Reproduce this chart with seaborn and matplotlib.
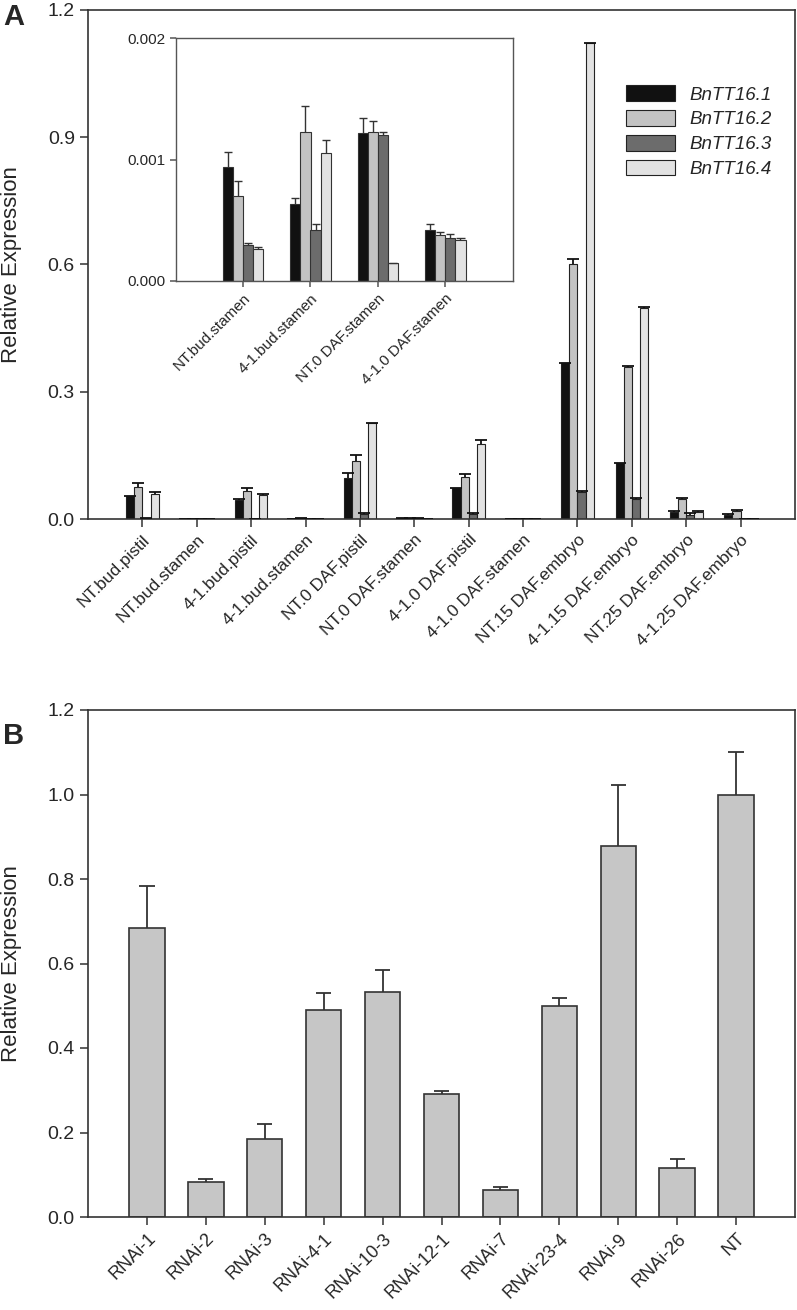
import pandas as pd
import matplotlib.pyplot as plt
import seaborn as sns

# panel A: expression of four BnTT16 copies across tissues
tissues = ['NT.bud.pistil', 'NT.bud.stamen', '4-1.bud.pistil', '4-1.bud.stamen',
           'NT.0 DAF.pistil', 'NT.0 DAF.stamen', '4-1.0 DAF.pistil', '4-1.0 DAF.stamen',
           'NT.15 DAF.embryo', '4-1.15 DAF.embryo', 'NT.25 DAF.embryo', '4-1.25 DAF.embryo']
genes = ['BnTT16.1', 'BnTT16.2', 'BnTT16.3', 'BnTT16.4']

tt16_1 = [0.055, 0.00094, 0.044, 0.00063, 0.097, 0.00122, 0.072, 0.00042, 0.367, 0.133, 0.016, 0.009]
tt16_2 = [0.075, 0.00070, 0.066, 0.00123, 0.136, 0.00123, 0.100, 0.00038, 0.601, 0.358, 0.046, 0.020]
tt16_3 = [0.003, 0.00030, 0.001, 0.00042, 0.0125, 0.00120, 0.0125, 0.00035, 0.064, 0.048, 0.009, 0.0005]
tt16_4 = [0.059, 0.00026, 0.057, 0.00105, 0.226, 0.00015, 0.176, 0.00034, 1.122, 0.498, 0.016, 0.001]

tt16_1_err = [0.0, 0.00012, 0.002, 0.00005, 0.012, 0.00012, 0.002, 0.00005, 0.0, 0.0, 0.002, 0.002]
tt16_2_err = [0.010, 0.00012, 0.008, 0.00021, 0.014, 0.00009, 0.005, 0.00002, 0.013, 0.002, 0.003, 0.001]
tt16_3_err = [0.0, 0.00001, 0.0, 0.00005, 0.001, 0.00003, 0.001, 0.00004, 0.001, 0.002, 0.004, 0.0]
tt16_4_err = [0.004, 0.00002, 0.002, 0.00011, 0.0, 0.0, 0.010, 0.00001, 0.001, 0.002, 0.003, 0.0]

inset_idx = [1, 3, 5, 7]

# panel B: RNAi lines
lines = ['RNAi-1', 'RNAi-2', 'RNAi-3', 'RNAi-4-1', 'RNAi-10-3', 'RNAi-12-1',
         'RNAi-7', 'RNAi-23-4', 'RNAi-9', 'RNAi-26', 'NT']
rel_expr = [0.685, 0.082, 0.185, 0.489, 0.533, 0.291, 0.064, 0.499, 0.879, 0.116, 1.0]
rel_err = [0.099, 0.007, 0.036, 0.042, 0.052, 0.008, 0.006, 0.020, 0.143, 0.022, 0.101]

colors = ['#111111', '#c3c3c3', '#6c6c6c', '#e2e2e2']

sns.set_style('ticks')
plt.rcParams['font.family'] = ['Liberation Sans', 'DejaVu Sans']


def long_frame(idx):
    vals = [tt16_1, tt16_2, tt16_3, tt16_4]
    rows = []
    for g, v in zip(genes, vals):
        for i in idx:
            rows.append({'tissue': tissues[i], 'gene': g, 'value': v[i]})
    return pd.DataFrame(rows)


def add_errs(ax, errs, half, lw, color='#111111'):
    for cont, err in zip(ax.containers, errs):
        for bar, e in zip(cont, err):
            x = bar.get_x() + bar.get_width() / 2
            y = bar.get_height()
            ax.vlines(x, y, y + e, color=color, lw=lw, zorder=3)
            ax.hlines(y + e, x - half, x + half, color=color, lw=lw, zorder=3)


def style_axes(ax, lw=1.2, color='#333333'):
    for s in ax.spines.values():
        s.set_visible(True)
        s.set_linewidth(lw)
        s.set_color(color)
    ax.tick_params(direction='out', length=6, width=1.1, color=color,
                   top=False, right=False)


fig = plt.figure(figsize=(7.97, 13.10), dpi=100)

# ---- panel A
axA = fig.add_axes([88 / 797, 1 - 519 / 1310, 707 / 797, 509 / 1310])
dfA = long_frame(range(len(tissues)))
sns.barplot(data=dfA, x='tissue', y='value', hue='gene', palette=colors,
            width=0.6, saturation=1, edgecolor='#222222', linewidth=0.8,
            errorbar=None, ax=axA)
add_errs(axA, [tt16_1_err, tt16_2_err, tt16_3_err, tt16_4_err], 0.11, 1.3)
axA.set_xlim(-1, 12)
axA.set_ylim(0, 1.2)
axA.set_yticks([0.0, 0.3, 0.6, 0.9, 1.2])
axA.set_yticklabels(['0.0', '0.3', '0.6', '0.9', '1.2'], fontsize=14)
axA.set_xticks(range(len(tissues)))
axA.set_xticklabels(tissues, rotation=45, ha='right', rotation_mode='anchor', fontsize=12.5)
axA.set_xlabel('')
axA.set_ylabel('Relative Expression', fontsize=16)
axA.yaxis.set_label_coords(-0.093, 0.5)
style_axes(axA)
handles, labels = axA.get_legend_handles_labels()
axA.legend(handles, labels, loc='upper left', bbox_to_anchor=(0.737, 0.885),
           frameon=False, prop={'style': 'italic', 'size': 13.5},
           handlelength=2.6, handleheight=0.9, labelspacing=0.35, handletextpad=0.8)

# ---- inset (stamen samples)
axI = fig.add_axes([175.7 / 797, 1 - 281 / 1310, 337 / 797, 243 / 1310])
dfI = long_frame(inset_idx)
sns.barplot(data=dfI, x='tissue', y='value', hue='gene', palette=colors,
            width=0.6, saturation=1, edgecolor='#333333', linewidth=0.8,
            errorbar=None, legend=False, ax=axI)
errs_all = [tt16_1_err, tt16_2_err, tt16_3_err, tt16_4_err]
add_errs(axI, [[e[i] for i in inset_idx] for e in errs_all], 0.06, 1.0, color='#333333')
axI.set_xlim(-1, 4)
axI.set_ylim(0, 0.002)
axI.set_yticks([0.0, 0.001, 0.002])
axI.set_yticklabels(['0.000', '0.001', '0.002'], fontsize=11)
axI.set_xticks(range(len(inset_idx)))
axI.set_xticklabels([tissues[i] for i in inset_idx], rotation=45, ha='right',
                    rotation_mode='anchor', fontsize=11)
axI.set_xlabel('')
axI.set_ylabel('')
style_axes(axI, lw=1.0, color='#555555')
axI.tick_params(length=4)

# ---- panel B
axB = fig.add_axes([88 / 797, 1 - 1217 / 1310, 707 / 797, 507 / 1310])
dfB = pd.DataFrame({'line': lines, 'value': rel_expr})
sns.barplot(data=dfB, x='line', y='value', color='#c6c6c6', width=0.6,
            saturation=1, edgecolor='#333333', linewidth=1.2, errorbar=None, ax=axB)
add_errs(axB, [rel_err], 0.13, 1.3, color='#333333')
axB.set_xlim(-1, 11)
axB.set_ylim(0, 1.2)
axB.set_yticks([0.0, 0.2, 0.4, 0.6, 0.8, 1.0, 1.2])
axB.set_yticklabels(['0.0', '0.2', '0.4', '0.6', '0.8', '1.0', '1.2'], fontsize=14)
axB.set_xticks(range(len(lines)))
axB.set_xticklabels(lines, rotation=45, ha='right', rotation_mode='anchor', fontsize=13)
axB.set_xlabel('')
axB.set_ylabel('Relative Expression', fontsize=16)
axB.yaxis.set_label_coords(-0.093, 0.5)
style_axes(axB)

fig.text(0.004, 0.998, 'A', fontsize=21, fontweight='bold', va='top', ha='left')
fig.text(0.004, 1 - 722 / 1310, 'B', fontsize=21, fontweight='bold', va='top', ha='left')

fig.savefig('out.png', dpi=100)
